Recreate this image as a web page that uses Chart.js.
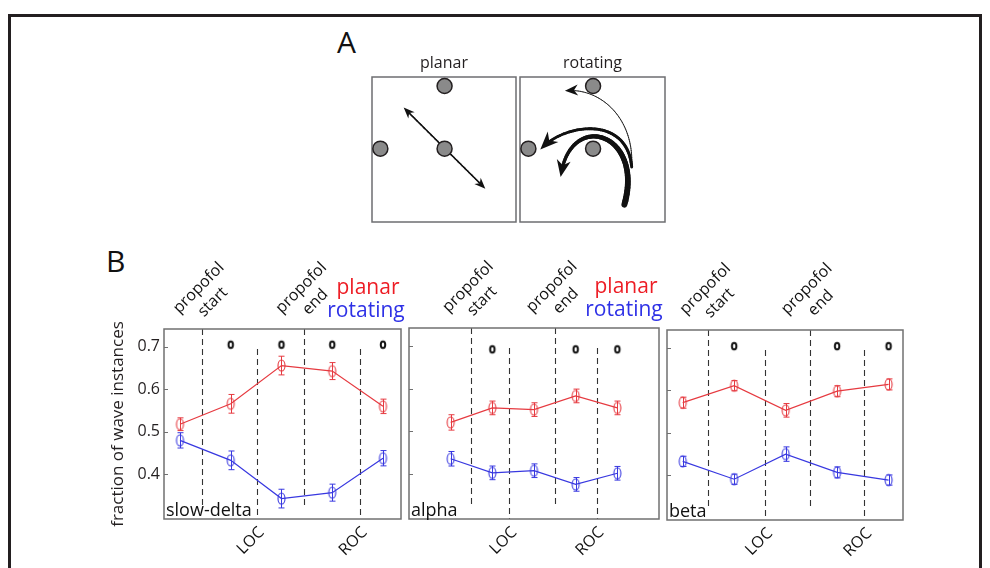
<!DOCTYPE html>
<html>
<head>
<meta charset="utf-8">
<title>Planar and rotating waves</title>
<script src="https://cdn.jsdelivr.net/npm/chart.js@4.4.1/dist/chart.umd.min.js"></script>
<style>
  body { margin: 0; width: 990px; height: 568px; overflow: hidden; position: relative; background: #fff; font-family: "Open Sans", sans-serif; }
  #frame { position: absolute; left: 8px; top: 14px; width: 974px; height: 620px; border: 3px solid #231f20; box-sizing: border-box; }
  canvas { position: absolute; left: 0; top: 0; }
  .tag { position: absolute; font-size: 30px; color: #111; line-height: 1; }
</style>
</head>
<body>
<div id="frame"></div>
<div class="tag" style="left:337px;top:27px">A</div>
<div class="tag" style="left:106px;top:246px">B</div>
<canvas id="aPlanar" width="990" height="568"></canvas>
<canvas id="aRotating" width="990" height="568"></canvas>
<canvas id="bSlowDelta" width="990" height="568"></canvas>
<canvas id="bAlpha" width="990" height="568"></canvas>
<canvas id="bBeta" width="990" height="568"></canvas>
<script>
// condiciones (épocas) en el eje x
const conditions = [1, 2, 3, 4, 5];
const yTicks = [0.4, 0.5, 0.6, 0.7];
const eventNames = ['propofol start', 'LOC', 'propofol end', 'ROC'];

// slow-delta
const planarSlowDelta = [0.518, 0.566, 0.656, 0.643, 0.560];
const planarSlowDeltaErr = [0.015, 0.022, 0.022, 0.020, 0.017];
const rotatingSlowDelta = [0.480, 0.433, 0.343, 0.357, 0.438];
const rotatingSlowDeltaErr = [0.018, 0.022, 0.022, 0.020, 0.018];
const sigSlowDelta = [2, 3, 4, 5];
const eventsSlowDelta = [1.43, 2.51, 3.45, 4.54];

// alpha
const planarAlpha = [0.521, 0.555, 0.551, 0.583, 0.555];
const planarAlphaErr = [0.018, 0.016, 0.016, 0.016, 0.016];
const rotatingAlpha = [0.436, 0.403, 0.408, 0.376, 0.402];
const rotatingAlphaErr = [0.017, 0.016, 0.016, 0.016, 0.016];
const sigAlpha = [2, 4, 5];
const eventsAlpha = [1.49, 2.41, 3.50, 4.50];

// beta
const planarBeta = [0.571, 0.611, 0.553, 0.598, 0.614];
const planarBetaErr = [0.013, 0.012, 0.016, 0.013, 0.013];
const rotatingBeta = [0.433, 0.391, 0.450, 0.407, 0.389];
const rotatingBetaErr = [0.012, 0.012, 0.017, 0.013, 0.012];
const sigBeta = [2, 4, 5];
const eventsBeta = [1.50, 2.60, 3.47, 4.53];

// esquema A: posiciones de los electrodos (unidades del recuadro)
const schemeSites = [[0.504, 0.938], [0.058, 0.506], [0.504, 0.506]];

Chart.defaults.font.family = '"Open Sans", sans-serif';

const RED = '#e63a40';
const BLUE = '#3838e0';

function ellipseMarker(color, w, h, lw) {
    const c = document.createElement('canvas');
    c.width = w + lw * 2 + 2;
    c.height = h + lw * 2 + 2;
    const g = c.getContext('2d');
    g.strokeStyle = color;
    g.lineWidth = lw;
    g.beginPath();
    g.ellipse(c.width / 2, c.height / 2, w / 2, h / 2, 0, 0, Math.PI * 2);
    g.stroke();
    return c;
}

const redMarker = ellipseMarker(RED, 7, 11, 1.1);
const blueMarker = ellipseMarker(BLUE, 7, 11, 1.1);
const sigMarker = ellipseMarker('#111', 4.5, 6.5, 2);

// Decoración de cada panel B: líneas de eventos, barras de error, marco, textos
const panelDecor = {
    id: 'panelDecor',
    beforeDatasetsDraw(chart, args, o) {
        const {ctx, chartArea: a, scales: {x, y}} = chart;
        ctx.save();
        ctx.strokeStyle = '#333';
        ctx.lineWidth = 1.1;
        ctx.setLineDash([6, 4]);
        o.events.forEach((ev, i) => {
            const px = Math.round(x.getPixelForValue(ev)) + 0.5;
            const isDrug = eventNames[i].startsWith('propofol');
            const y0 = isDrug ? a.top : y.getPixelForValue(0.695);
            const y1 = isDrug ? y.getPixelForValue(0.328) : a.bottom;
            ctx.beginPath();
            ctx.moveTo(px, y0);
            ctx.lineTo(px, y1);
            ctx.stroke();
        });
        ctx.restore();
    },
    afterDatasetsDraw(chart, args, o) {
        const {ctx, chartArea: a, scales: {x, y}} = chart;
        ctx.save();
        // barras de error
        chart.data.datasets.forEach(ds => {
            if (!ds.err) return;
            ctx.strokeStyle = ds.borderColor;
            ctx.lineWidth = 1;
            ds.data.forEach((p, i) => {
                const px = Math.round(x.getPixelForValue(p.x)) + 0.5;
                const yt = y.getPixelForValue(p.y + ds.err[i]);
                const yb = y.getPixelForValue(p.y - ds.err[i]);
                ctx.beginPath();
                ctx.moveTo(px, yt); ctx.lineTo(px, yb);
                ctx.moveTo(px - 3, yt); ctx.lineTo(px + 3, yt);
                ctx.moveTo(px - 3, yb); ctx.lineTo(px + 3, yb);
                ctx.stroke();
            });
        });
        // marco y marcas internas del eje y
        ctx.strokeStyle = '#707070';
        ctx.lineWidth = 1.5;
        ctx.strokeRect(a.left, a.top, a.right - a.left, a.bottom - a.top);
        ctx.lineWidth = 1;
        yTicks.forEach(v => {
            const py = Math.round(y.getPixelForValue(v)) + 0.5;
            ctx.beginPath();
            ctx.moveTo(a.left, py);
            ctx.lineTo(a.left + 4, py);
            ctx.stroke();
        });
        // nombre de la banda
        ctx.fillStyle = '#111';
        ctx.font = '18px "Open Sans"';
        ctx.textAlign = 'left';
        ctx.textBaseline = 'alphabetic';
        ctx.fillText(o.band, a.left + 2, a.bottom - 3);
        // etiquetas de eventos
        o.events.forEach((ev, i) => {
            const px = x.getPixelForValue(ev);
            const words = eventNames[i].split(' ');
            ctx.save();
            if (words.length > 1) {
                ctx.translate(px + 4, a.top - 34);
                ctx.rotate(-Math.PI / 4);
                ctx.font = '16px "Open Sans"';
                ctx.textAlign = 'center';
                ctx.textBaseline = 'middle';
                ctx.fillText(words[0], 0, -10);
                ctx.fillText(words[1], 0, 10);
            } else {
                ctx.translate(px + 5, a.bottom + 11);
                ctx.rotate(-Math.PI / 4);
                ctx.font = '16px "Open Sans"';
                ctx.textAlign = 'right';
                ctx.textBaseline = 'middle';
                ctx.fillText(words[0], 0, 0);
            }
            ctx.restore();
        });
        // leyenda
        if (o.legend) {
            ctx.font = '21px "Open Sans"';
            ctx.textAlign = 'center';
            ctx.textBaseline = 'middle';
            ctx.fillStyle = '#ed1c24';
            ctx.fillText('planar', a.right - 33, a.top - 41);
            ctx.fillStyle = '#2e31e6';
            ctx.fillText('rotating', a.right - 35, a.top - 18);
        }
        ctx.restore();
    }
};

function makePanel(id, box, band, planar, planarErr, rotating, rotatingErr, sig, sigLevel, events, xRange, showY, legend) {
    const yWidth = showY ? 56 : 0;
    return new Chart(document.getElementById(id), {
        type: 'line',
        data: {
            datasets: [
                {
                    label: 'planar',
                    data: conditions.map((c, i) => ({x: c, y: planar[i]})),
                    err: planarErr,
                    borderColor: RED,
                    borderWidth: 1.2,
                    pointStyle: redMarker,
                    pointRadius: 5
                },
                {
                    label: 'rotating',
                    data: conditions.map((c, i) => ({x: c, y: rotating[i]})),
                    err: rotatingErr,
                    borderColor: BLUE,
                    borderWidth: 1.2,
                    pointStyle: blueMarker,
                    pointRadius: 5
                },
                {
                    type: 'scatter',
                    label: 'sig',
                    data: sig.map(c => ({x: c, y: sigLevel})),
                    pointStyle: sigMarker,
                    pointRadius: 3
                }
            ]
        },
        options: {
            responsive: false,
            animation: false,
            layout: {
                padding: {left: box.left - yWidth, right: 990 - box.right, top: box.top, bottom: 568 - box.bottom}
            },
            plugins: {
                legend: {display: false},
                tooltip: {enabled: false},
                panelDecor: {band: band, events: events, legend: legend}
            },
            scales: {
                x: {type: 'linear', display: false, min: xRange[0], max: xRange[1]},
                y: {
                    display: showY,
                    min: 0.295,
                    max: 0.742,
                    afterFit: s => { s.width = yWidth; },
                    afterBuildTicks: s => { s.ticks = yTicks.map(v => ({value: v})); },
                    grid: {display: false, drawTicks: false},
                    border: {display: false},
                    ticks: {
                        padding: 4,
                        color: '#231f20',
                        font: {size: 16},
                        callback: v => v.toFixed(1)
                    },
                    title: {
                        display: true,
                        text: 'fraction of wave instances',
                        color: '#231f20',
                        font: {size: 17},
                        padding: {top: 0, bottom: 0}
                    }
                }
            }
        },
        plugins: [panelDecor]
    });
}

makePanel('bSlowDelta', {left: 164, right: 401, top: 329, bottom: 519}, 'slow-delta',
    planarSlowDelta, planarSlowDeltaErr, rotatingSlowDelta, rotatingSlowDeltaErr,
    sigSlowDelta, 0.705, eventsSlowDelta, [0.685, 5.355], true, true);
makePanel('bAlpha', {left: 409, right: 659, top: 328, bottom: 519}, 'alpha',
    planarAlpha, planarAlphaErr, rotatingAlpha, rotatingAlphaErr,
    sigAlpha, 0.692, eventsAlpha, [0.0, 6.0], false, true);
makePanel('bBeta', {left: 667, right: 903, top: 330, bottom: 520}, 'beta',
    planarBeta, planarBetaErr, rotatingBeta, rotatingBetaErr,
    sigBeta, 0.704, eventsBeta, [0.695, 5.28], false, false);

// Esquema A: flechas dibujadas sobre las escalas del recuadro
function drawHead(ctx, tip, from, len, wid) {
    const ang = Math.atan2(tip[1] - from[1], tip[0] - from[0]);
    ctx.save();
    ctx.translate(tip[0], tip[1]);
    ctx.rotate(ang);
    ctx.beginPath();
    ctx.moveTo(0, 0);
    ctx.lineTo(-len, -wid / 2);
    ctx.lineTo(-len * 0.7, 0);
    ctx.lineTo(-len, wid / 2);
    ctx.closePath();
    ctx.fill();
    ctx.restore();
}

function curvePoint(p, t) {
    if (p.length === 2) {
        return [p[0][0] + (p[1][0] - p[0][0]) * t, p[0][1] + (p[1][1] - p[0][1]) * t];
    }
    const u = 1 - t;
    const a = u * u * u, b = 3 * u * u * t, c = 3 * u * t * t, d = t * t * t;
    return [a * p[0][0] + b * p[1][0] + c * p[2][0] + d * p[3][0],
            a * p[0][1] + b * p[1][1] + c * p[2][1] + d * p[3][1]];
}

const schemeDecor = {
    id: 'schemeDecor',
    beforeDatasetsDraw(chart, args, o) {
        const {ctx, chartArea: a, scales: {x, y}} = chart;
        ctx.save();
        ctx.strokeStyle = '#6d6e71';
        ctx.lineWidth = 1.5;
        ctx.strokeRect(a.left, a.top, a.right - a.left, a.bottom - a.top);
        ctx.fillStyle = '#231f20';
        ctx.font = '16px "Open Sans"';
        ctx.textAlign = 'center';
        ctx.textBaseline = 'alphabetic';
        ctx.fillText(o.title, (a.left + a.right) / 2, a.top - 9);
        ctx.strokeStyle = '#111';
        ctx.fillStyle = '#111';
        ctx.lineCap = 'round';
        o.arrows.forEach(ar => {
            const px = ar.pts.map(p => [x.getPixelForValue(p[0]), y.getPixelForValue(p[1])]);
            const n = 60;
            const samples = [];
            for (let i = 0; i <= n; i++) samples.push(curvePoint(px, i / n));
            const tip = samples[n], start = samples[0];
            const cut = ar.len * 0.65;
            for (let i = 0; i < n; i++) {
                const s0 = samples[i], s1 = samples[i + 1];
                if (Math.hypot(s1[0] - tip[0], s1[1] - tip[1]) < cut) break;
                if (ar.both && Math.hypot(s0[0] - start[0], s0[1] - start[1]) < cut) continue;
                ctx.lineWidth = ar.w[0] + (ar.w[1] - ar.w[0]) * i / n;
                ctx.beginPath();
                ctx.moveTo(s0[0], s0[1]);
                ctx.lineTo(s1[0], s1[1]);
                ctx.stroke();
            }
            drawHead(ctx, tip, samples[n - 3], ar.len, ar.wid);
            if (ar.both) drawHead(ctx, start, samples[3], ar.len, ar.wid);
        });
        ctx.restore();
    }
};

function makeScheme(id, box, title, arrows) {
    return new Chart(document.getElementById(id), {
        type: 'scatter',
        data: {
            datasets: [{
                data: schemeSites.map(s => ({x: s[0], y: s[1]})),
                pointRadius: 7.5,
                backgroundColor: '#8a8a8a',
                borderColor: '#231f20',
                borderWidth: 1.5
            }]
        },
        options: {
            responsive: false,
            animation: false,
            layout: {padding: {left: box.left, right: 990 - box.right, top: box.top, bottom: 568 - box.bottom}},
            plugins: {legend: {display: false}, tooltip: {enabled: false}, schemeDecor: {title: title, arrows: arrows}},
            scales: {
                x: {display: false, min: 0, max: 1},
                y: {display: false, min: 0, max: 1}
            }
        },
        plugins: [schemeDecor]
    });
}

makeScheme('aPlanar', {left: 372, right: 516, top: 77, bottom: 222}, 'planar', [
    {pts: [[0.22, 0.789], [0.787, 0.23]], w: [1.5, 1.5], len: 11, wid: 9, both: true}
]);
makeScheme('aRotating', {left: 520, right: 665, top: 77, bottom: 222}, 'rotating', [
    {pts: [[0.77, 0.38], [0.79, 0.72], [0.55, 0.93], [0.31, 0.905]], w: [0.9, 0.8], len: 13, wid: 11},
    {pts: [[0.77, 0.38], [0.74, 0.74], [0.30, 0.68], [0.14, 0.5]], w: [3, 2.6], len: 18, wid: 15},
    {pts: [[0.72, 0.12], [0.86, 0.62], [0.34, 0.78], [0.28, 0.31]], w: [6, 3], len: 17, wid: 14}
]);
</script>
</body>
</html>
